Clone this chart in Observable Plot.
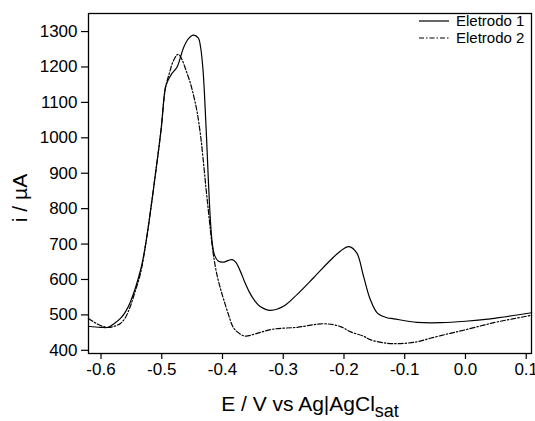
<!DOCTYPE html>
<html>
<head>
<meta charset="utf-8">
<script src="https://cdn.jsdelivr.net/npm/d3@7"></script>
<script src="https://cdn.jsdelivr.net/npm/@observablehq/plot@0.6"></script>
<style>
  html, body { margin: 0; padding: 0; background: #fff; }
  #chart { width: 535px; height: 421px; }
</style>
</head>
<body>
<div id="chart"></div>
<script>
// Potential (V vs Ag|AgCl sat) and current (µA)
const e1 = [-0.6206,-0.601,-0.588,-0.577,-0.568,-0.560,-0.552,-0.535,-0.526,-0.511,-0.501,-0.494,-0.490,-0.484,-0.475,-0.464,-0.456,-0.448,-0.440,-0.436,-0.432,-0.429,-0.426,-0.423,-0.420,-0.417,-0.413,-0.407,-0.398,-0.390,-0.384,-0.378,-0.371,-0.364,-0.356,-0.347,-0.338,-0.321,-0.299,-0.277,-0.250,-0.222,-0.206,-0.192,-0.179,-0.168,-0.157,-0.145,-0.129,-0.118,-0.080,-0.041,0.0,0.041,0.109];
const i1 = [468,465,465,477,490,508,535,626,705,890,1025,1142,1161,1180,1199,1255,1280,1290,1282,1255,1190,1100,990,870,770,705,668,652,649,654,656,648,625,595,565,540,524,513,525,558,605,655,680,693,675,610,545,505,492,489,479,478,482,489,506];

const e2 = [-0.6206,-0.610,-0.601,-0.590,-0.580,-0.568,-0.560,-0.552,-0.544,-0.535,-0.526,-0.511,-0.501,-0.494,-0.487,-0.481,-0.473,-0.467,-0.460,-0.453,-0.447,-0.442,-0.436,-0.431,-0.427,-0.423,-0.419,-0.415,-0.409,-0.403,-0.398,-0.390,-0.382,-0.371,-0.362,-0.343,-0.316,-0.277,-0.233,-0.206,-0.189,-0.168,-0.157,-0.129,-0.107,-0.080,-0.058,-0.025,0.0,0.030,0.052,0.109];
const i2 = [490,478,470,465,467,476,492,523,565,617,705,890,1025,1140,1185,1217,1236,1222,1190,1155,1115,1075,1005,925,855,790,725,670,612,572,543,500,464,446,440,448,460,465,475,467,452,440,430,420,419,424,434,448,458,471,480,499];

const seriesNames = ["Eletrodo 1", "Eletrodo 2"];
const xTicks = [-0.6,-0.5,-0.4,-0.3,-0.2,-0.1,0.0,0.1];
const yTicks = [400,500,600,700,800,900,1000,1100,1200,1300];

const s1 = e1.map((e,k) => ({E: e, I: i1[k]}));
const s2 = e2.map((e,k) => ({E: e, I: i2[k]}));

const W = 535, H = 421;
const mL = 88, mR = 4, mT = 13, mB = 68;
const font = "'Liberation Sans', Arial, Helvetica, sans-serif";
const dashDot = "5,2,1.5,2";

const fmtX = d => Math.abs(d) < 1e-9 ? "0.0" : d.toFixed(1);
const fmtY = d => String(d);

const plot = Plot.plot({
  width: W, height: H,
  marginLeft: mL, marginRight: mR, marginTop: mT, marginBottom: mB,
  style: {fontFamily: font, fontSize: "17px", color: "#000", background: "#fff", overflow: "visible"},
  x: {domain: [-0.6206, 0.1087]},
  y: {domain: [391, 1351]},
  marks: [
    Plot.line(s1, {x: "E", y: "I", stroke: "#000", strokeWidth: 1.2, curve: "catmull-rom"}),
    Plot.line(s2, {x: "E", y: "I", stroke: "#000", strokeWidth: 1.2, strokeDasharray: dashDot, curve: "catmull-rom"}),
    Plot.axisX({ticks: xTicks, tickFormat: fmtX, tickSize: 6, tickPadding: 3, label: null, fontSize: 17, stroke: "#000", strokeWidth: 1.2}),
    Plot.axisY({ticks: yTicks, tickFormat: fmtY, tickSize: 7, tickPadding: 4, label: null, fontSize: 17, stroke: "#000", strokeWidth: 1.2}),
    Plot.frame({stroke: "#000", strokeWidth: 1.3})
  ]
});

document.getElementById("chart").appendChild(plot);

const svg = d3.select(plot);
// y axis title
svg.append("text")
  .attr("transform", `translate(27,${mT + (H - mT - mB) / 2 + 15}) rotate(-90)`)
  .attr("text-anchor", "middle")
  .attr("font-family", font).attr("font-size", 21).attr("fill", "#000")
  .text("i / µA");
// x axis title with subscript
const xt = svg.append("text")
  .attr("x", 310).attr("y", 411)
  .attr("text-anchor", "middle")
  .attr("font-family", font).attr("font-size", 21).attr("fill", "#000");
xt.append("tspan").text("E / V vs Ag|AgCl");
xt.append("tspan").attr("dy", 6).attr("font-size", 18).text("sat");

// legend
const lg = svg.append("g");
[[21, null], [38, dashDot]].forEach(([y, da], k) => {
  lg.append("line").attr("x1", 419).attr("x2", 449).attr("y1", y).attr("y2", y)
    .attr("stroke", "#000").attr("stroke-width", 1.2)
    .attr("stroke-dasharray", da);
  lg.append("text").attr("x", 456).attr("y", y + 5)
    .attr("text-anchor", "start")
    .attr("font-family", font).attr("font-size", 15).attr("fill", "#000")
    .text(seriesNames[k]);
});
</script>
</body>
</html>
